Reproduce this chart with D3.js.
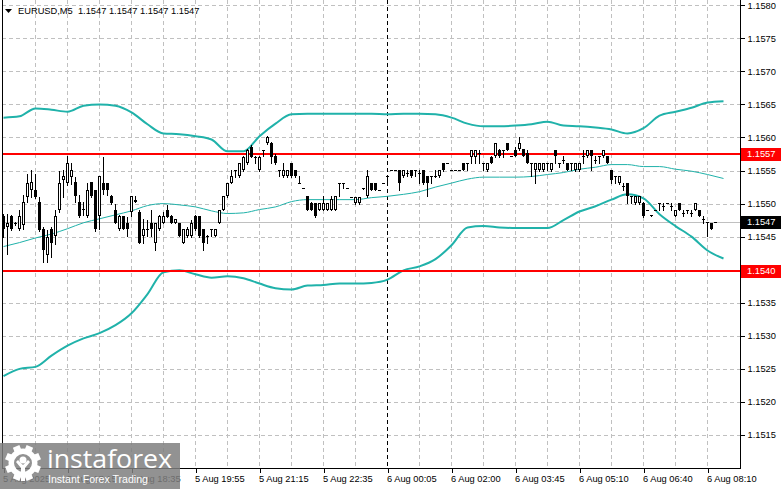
<!doctype html>
<html>
<head>
<meta charset="utf-8">
<title>EURUSD,M5</title>
<style>
body { margin: 0; background: #fff; }
svg { display: block; font-family: "Liberation Sans", Arial, sans-serif; }
.axis text { font-size: 9.3px; fill: #000; }
.axis line, .axis path { stroke: #000; }
</style>
</head>
<body>
<svg width="781" height="489"></svg>
<script src="https://cdn.jsdelivr.net/npm/d3@7"></script>
<script>
// M5 bars: [open, high, low, close]
var candles = [
  [1.15481,1.15485,1.15450,1.15461],[1.15465,1.15485,1.15424,1.15470],[1.15481,1.15482,1.15460,1.15461],[1.15470,1.15472,1.15468,1.15471],
  [1.15461,1.15490,1.15460,1.15481],[1.15467,1.15513,1.15461,1.15503],[1.15510,1.15545,1.15503,1.15531],[1.15521,1.15551,1.15510,1.15533],
  [1.15521,1.15545,1.15508,1.15510],[1.15503,1.15510,1.15458,1.15460],[1.15461,1.15465,1.15412,1.15430],[1.15422,1.15460,1.15412,1.15450],
  [1.15461,1.15465,1.15419,1.15440],[1.15451,1.15490,1.15439,1.15481],[1.15491,1.15550,1.15487,1.15531],[1.15535,1.15551,1.15510,1.15541],
  [1.15531,1.15572,1.15528,1.15561],[1.15540,1.15561,1.15530,1.15551],[1.15533,1.15540,1.15503,1.15511],[1.15503,1.15513,1.15480,1.15481],
  [1.15492,1.15503,1.15482,1.15492],[1.15481,1.15531,1.15480,1.15521],[1.15533,1.15533,1.15510,1.15511],[1.15521,1.15521,1.15458,1.15461],
  [1.15481,1.15541,1.15461,1.15541],[1.15531,1.15571,1.15515,1.15521],[1.15531,1.15531,1.15513,1.15521],[1.15511,1.15513,1.15500,1.15501],
  [1.15491,1.15500,1.15470,1.15471],[1.15461,1.15482,1.15460,1.15481],[1.15481,1.15481,1.15461,1.15461],[1.15471,1.15480,1.15451,1.15461],
  [1.15487,1.15511,1.15481,1.15511],[1.15503,1.15511,1.15503,1.15505],[1.15487,1.15490,1.15440,1.15441],[1.15451,1.15476,1.15441,1.15461],
  [1.15461,1.15475,1.15451,1.15460],[1.15471,1.15490,1.15451,1.15461],[1.15441,1.15471,1.15430,1.15471],[1.15461,1.15482,1.15460,1.15481],
  [1.15471,1.15487,1.15470,1.15481],[1.15491,1.15498,1.15480,1.15480],[1.15481,1.15482,1.15470,1.15471],[1.15471,1.15477,1.15470,1.15477],
  [1.15471,1.15471,1.15451,1.15451],[1.15441,1.15461,1.15441,1.15461],[1.15451,1.15465,1.15450,1.15461],[1.15451,1.15475,1.15450,1.15471],
  [1.15481,1.15482,1.15460,1.15461],[1.15481,1.15481,1.15450,1.15451],[1.15461,1.15461,1.15430,1.15441],[1.15451,1.15452,1.15441,1.15451],
  [1.15461,1.15461,1.15451,1.15461],[1.15451,1.15461,1.15451,1.15461],[1.15471,1.15491,1.15470,1.15491],[1.15491,1.15511,1.15490,1.15511],
  [1.15511,1.15531,1.15510,1.15531],[1.15531,1.15551,1.15531,1.15541],[1.15551,1.15551,1.15540,1.15551],[1.15541,1.15561,1.15540,1.15561],
  [1.15551,1.15572,1.15550,1.15571],[1.15561,1.15582,1.15560,1.15581],[1.15585,1.15588,1.15570,1.15571],[1.15571,1.15572,1.15561,1.15571],
  [1.15551,1.15572,1.15550,1.15571],[1.15581,1.15581,1.15572,1.15581],[1.15591,1.15602,1.15590,1.15601],[1.15591,1.15593,1.15561,1.15571],
  [1.15572,1.15575,1.15560,1.15561],[1.15551,1.15551,1.15541,1.15551],[1.15541,1.15561,1.15540,1.15551],[1.15541,1.15551,1.15540,1.15551],
  [1.15561,1.15561,1.15540,1.15541],[1.15551,1.15551,1.15540,1.15541],[1.15531,1.15541,1.15531,1.15531],[1.15523,1.15523,1.15523,1.15523],
  [1.15511,1.15511,1.15490,1.15490],[1.15501,1.15503,1.15490,1.15491],[1.15501,1.15501,1.15480,1.15481],[1.15491,1.15501,1.15490,1.15501],
  [1.15491,1.15511,1.15490,1.15501],[1.15491,1.15501,1.15490,1.15501],[1.15491,1.15511,1.15490,1.15507],[1.15491,1.15511,1.15490,1.15511],
  [1.15531,1.15531,1.15511,1.15531],[1.15531,1.15531,1.15523,1.15531],[1.15523,1.15523,1.15523,1.15523],[1.15510,1.15510,1.15510,1.15510],
  [1.15501,1.15510,1.15500,1.15510],[1.15501,1.15510,1.15500,1.15510],[1.15523,1.15523,1.15522,1.15523],[1.15511,1.15551,1.15510,1.15541],
  [1.15531,1.15531,1.15520,1.15521],[1.15531,1.15531,1.15520,1.15521],[1.15521,1.15521,1.15521,1.15521],[1.15531,1.15531,1.15531,1.15531],
  [1.15541,1.15541,1.15531,1.15541],[1.15551,1.15551,1.15551,1.15551],[1.15551,1.15551,1.15551,1.15551],[1.15551,1.15551,1.15521,1.15531],
  [1.15541,1.15551,1.15540,1.15551],[1.15545,1.15551,1.15541,1.15546],[1.15551,1.15551,1.15540,1.15541],[1.15551,1.15551,1.15541,1.15551],
  [1.15546,1.15551,1.15531,1.15545],[1.15551,1.15551,1.15530,1.15531],[1.15541,1.15541,1.15511,1.15531],[1.15541,1.15541,1.15531,1.15541],
  [1.15541,1.15551,1.15540,1.15541],[1.15541,1.15551,1.15540,1.15551],[1.15561,1.15562,1.15550,1.15551],[1.15561,1.15561,1.15561,1.15561],
  [1.15551,1.15551,1.15551,1.15551],[1.15551,1.15551,1.15551,1.15551],[1.15551,1.15551,1.15551,1.15551],[1.15561,1.15561,1.15551,1.15551],
  [1.15561,1.15561,1.15551,1.15561],[1.15571,1.15581,1.15561,1.15581],[1.15571,1.15581,1.15561,1.15581],[1.15576,1.15581,1.15561,1.15575],
  [1.15561,1.15561,1.15551,1.15561],[1.15551,1.15561,1.15550,1.15561],[1.15571,1.15572,1.15561,1.15561],[1.15572,1.15591,1.15571,1.15591],
  [1.15581,1.15582,1.15571,1.15572],[1.15581,1.15581,1.15571,1.15581],[1.15591,1.15591,1.15581,1.15581],[1.15572,1.15572,1.15572,1.15572],
  [1.15581,1.15585,1.15572,1.15572],[1.15582,1.15601,1.15581,1.15591],[1.15582,1.15582,1.15572,1.15572],[1.15576,1.15581,1.15561,1.15561],
  [1.15561,1.15561,1.15541,1.15561],[1.15551,1.15561,1.15531,1.15561],[1.15551,1.15561,1.15550,1.15561],[1.15551,1.15561,1.15550,1.15561],
  [1.15561,1.15561,1.15551,1.15561],[1.15551,1.15561,1.15550,1.15561],[1.15581,1.15581,1.15561,1.15572],[1.15561,1.15561,1.15555,1.15561],
  [1.15566,1.15572,1.15561,1.15566],[1.15561,1.15561,1.15551,1.15551],[1.15561,1.15561,1.15551,1.15561],[1.15551,1.15561,1.15550,1.15561],
  [1.15551,1.15561,1.15550,1.15561],[1.15572,1.15581,1.15561,1.15571],[1.15572,1.15581,1.15571,1.15581],[1.15581,1.15581,1.15551,1.15572],
  [1.15566,1.15572,1.15561,1.15566],[1.15572,1.15572,1.15561,1.15572],[1.15572,1.15581,1.15571,1.15581],[1.15572,1.15572,1.15561,1.15561],
  [1.15551,1.15551,1.15531,1.15535],[1.15541,1.15541,1.15531,1.15541],[1.15531,1.15541,1.15530,1.15541],[1.15526,1.15531,1.15521,1.15526],
  [1.15531,1.15531,1.15501,1.15511],[1.15511,1.15511,1.15501,1.15511],[1.15501,1.15511,1.15500,1.15511],[1.15501,1.15511,1.15500,1.15511],
  [1.15501,1.15503,1.15480,1.15481],[1.15491,1.15491,1.15491,1.15491],[1.15482,1.15482,1.15481,1.15481],[1.15491,1.15491,1.15491,1.15491],
  [1.15501,1.15501,1.15491,1.15501],[1.15496,1.15501,1.15491,1.15496],[1.15501,1.15501,1.15501,1.15501],[1.15496,1.15501,1.15491,1.15495],
  [1.15481,1.15491,1.15481,1.15491],[1.15501,1.15501,1.15491,1.15491],[1.15486,1.15491,1.15481,1.15486],[1.15491,1.15491,1.15486,1.15491],
  [1.15486,1.15491,1.15481,1.15485],[1.15491,1.15501,1.15491,1.15501],[1.15491,1.15491,1.15481,1.15481],[1.15476,1.15481,1.15471,1.15476],
  [1.15472,1.15472,1.15451,1.15472],[1.15471,1.15471,1.15461,1.15461],[1.15472,1.15472,1.15472,1.15472]
];

// Bollinger bands, one value every 4 bars (last one at bar 180)
var bandBars = d3.range(0, 177, 4).concat([180]);
var upperBand = [1.15630,1.15632,1.15644,1.15642,1.15639,1.15648,1.15650,1.15648,1.15638,1.15620,
  1.15606,1.15605,1.15602,1.15597,1.15579,1.15579,1.15602,1.15621,1.15635,1.15636,
  1.15636,1.15636,1.15636,1.15636,1.15635,1.15636,1.15636,1.15635,1.15630,1.15621,
  1.15617,1.15617,1.15618,1.15620,1.15624,1.15618,1.15617,1.15615,1.15612,1.15606,
  1.15614,1.15633,1.15639,1.15645,1.15653,1.15655];
var middleBand = [1.15435,1.15441,1.15448,1.15454,1.15462,1.15471,1.15477,1.15483,1.15489,1.15497,
  1.15500,1.15498,1.15495,1.15489,1.15485,1.15486,1.15491,1.15495,1.15503,1.15506,
  1.15506,1.15506,1.15506,1.15509,1.15511,1.15514,1.15518,1.15525,1.15531,1.15537,
  1.15540,1.15540,1.15540,1.15541,1.15544,1.15547,1.15552,1.15555,1.15559,1.15559,
  1.15556,1.15556,1.15552,1.15549,1.15544,1.15538];
var lowerBand = [1.15239,1.15250,1.15253,1.15270,1.15285,1.15296,1.15304,1.15316,1.15334,1.15363,
  1.15396,1.15399,1.15393,1.15388,1.15390,1.15387,1.15379,1.15372,1.15370,1.15376,
  1.15377,1.15379,1.15379,1.15380,1.15385,1.15399,1.15405,1.15416,1.15437,1.15464,
  1.15466,1.15464,1.15463,1.15463,1.15463,1.15475,1.15488,1.15496,1.15506,1.15514,
  1.15508,1.15484,1.15466,1.15450,1.15429,1.15417];

var priceTicks = [1.1515, 1.1520, 1.1525, 1.1530, 1.1535, 1.1540, 1.1545, 1.1550, 1.1555, 1.1560, 1.1565, 1.1570, 1.1575, 1.1580];
var timeTickBars = [0, 16, 32, 48, 64, 80, 96, 112, 128, 144, 160, 176];
var timeLabels = ["5 Aug 2025", "5 Aug 17:15", "5 Aug 18:35", "5 Aug 19:55", "5 Aug 21:15", "5 Aug 22:35",
  "6 Aug 00:05", "6 Aug 02:00", "6 Aug 03:45", "6 Aug 05:10", "6 Aug 06:40", "6 Aug 08:10"];
var daySeparatorBar = 96;
var levelPrices = [1.15575, 1.15398];
var levelLabels = ["1.1557", "1.1540"];
var lastPrice = 1.15472;
var lastLabel = "1.1547";

var svg = d3.select("svg"),
    left = 2, right = 740, bottom = 468;

var x = d3.scaleLinear().domain([0, 178]).range([3.5, 715.5]);
var y = d3.scaleLinear().domain([1.15100, 1.15808]).range([bottom, 0]);

svg.append("rect").attr("width", 781).attr("height", 489).attr("fill", "#fff");

// grid
var grid = svg.append("g").attr("shape-rendering", "crispEdges");
grid.selectAll(".hg").data(priceTicks).enter().append("line")
    .attr("x1", left).attr("x2", right)
    .attr("y1", function(d) { return Math.round(y(d)) + 0.5; })
    .attr("y2", function(d) { return Math.round(y(d)) + 0.5; })
    .attr("stroke", "#c0c0c0").attr("stroke-dasharray", "4,3");
grid.selectAll(".vg").data(d3.range(8, 177, 8)).enter().append("line")
    .attr("x1", function(d) { return x(d); }).attr("x2", function(d) { return x(d); })
    .attr("y1", 0).attr("y2", bottom)
    .attr("stroke", function(d) { return d === daySeparatorBar ? "#000" : "#c0c0c0"; })
    .attr("stroke-dasharray", "4,3");

// current price line
svg.append("line")
    .attr("x1", left).attr("x2", right)
    .attr("y1", Math.round(y(lastPrice)) + 0.5).attr("y2", Math.round(y(lastPrice)) + 0.5)
    .attr("stroke", "#c0c0c0").attr("shape-rendering", "crispEdges");

// bands
function band(values) {
    return d3.line()
        .x(function(d, i) { return x(bandBars[i]); })
        .y(function(d) { return y(d); })
        .curve(d3.curveMonotoneX)(values);
}
var teal = "#20b2aa";
svg.append("path").attr("d", band(upperBand)).attr("fill", "none").attr("stroke", teal).attr("stroke-width", 2);
svg.append("path").attr("d", band(lowerBand)).attr("fill", "none").attr("stroke", teal).attr("stroke-width", 2);
svg.append("path").attr("d", band(middleBand)).attr("fill", "none").attr("stroke", teal).attr("stroke-width", 1);

// support / resistance levels
svg.selectAll(".level").data(levelPrices).enter().append("line")
    .attr("x1", left).attr("x2", right)
    .attr("y1", function(d) { return y(d); }).attr("y2", function(d) { return y(d); })
    .attr("stroke", "#ff0000").attr("stroke-width", 2);

// candles
var cg = svg.append("g").attr("shape-rendering", "crispEdges");
candles.forEach(function(d, i) {
    var o = d[0], h = d[1], l = d[2], c = d[3], cx = x(i);
    cg.append("line")
        .attr("x1", cx).attr("x2", cx)
        .attr("y1", Math.round(y(h))).attr("y2", Math.round(y(l)) + 1)
        .attr("stroke", "#000");
    var top = Math.round(y(Math.max(o, c))), bot = Math.round(y(Math.min(o, c)));
    if (bot - top <= 1) {
        cg.append("rect").attr("x", cx - 1.5).attr("y", top).attr("width", 3).attr("height", 1).attr("fill", "#000");
    } else {
        cg.append("rect")
            .attr("x", cx - 1).attr("y", top + 0.5)
            .attr("width", 2).attr("height", bot - top - 1)
            .attr("fill", c >= o ? "#fff" : "#000")
            .attr("stroke", "#000");
    }
});

// borders
svg.append("path")
    .attr("d", "M" + (left + 0.5) + ",0V" + (bottom + 0.5) + "H" + (right + 0.5) + "V0")
    .attr("fill", "none").attr("stroke", "#000").attr("shape-rendering", "crispEdges");

// axes
svg.append("g").attr("class", "axis")
    .attr("transform", "translate(" + (right + 0.5) + ",0)")
    .call(d3.axisRight(y).tickValues(priceTicks).tickSize(4).tickSizeOuter(0).tickFormat(d3.format(".4f")))
    .call(function(g) { g.select(".domain").remove(); })
    .attr("font-family", null).attr("font-size", null)
    .selectAll("line").attr("shape-rendering", "crispEdges");

svg.append("g").attr("class", "axis")
    .attr("transform", "translate(0," + (bottom + 0.5) + ")")
    .call(d3.axisBottom(x).tickValues(timeTickBars).tickSize(4)
        .tickFormat(function(d, i) { return timeLabels[i]; }))
    .call(function(g) { g.select(".domain").remove(); })
    .attr("font-family", null).attr("font-size", null)
    .call(function(g) {
        g.selectAll("text").attr("text-anchor", "start").attr("x", -1);
        g.selectAll("line").attr("shape-rendering", "crispEdges");
    });

// price boxes
function priceBox(p, label, fill) {
    var yy = y(p);
    svg.append("rect").attr("x", right + 1).attr("y", Math.round(yy) - 6).attr("width", 40).attr("height", 13).attr("fill", fill);
    svg.append("text").attr("x", right + 7).attr("y", yy).attr("dy", "0.34em")
        .attr("font-size", "9.3px").attr("fill", "#fff").text(label);
}
levelPrices.forEach(function(p, i) { priceBox(p, levelLabels[i], "#ff0000"); });
priceBox(lastPrice, lastLabel, "#000");

// title
svg.append("path").attr("d", "M5,9H12L8.5,13Z").attr("fill", "#000");
svg.append("text").attr("x", 18).attr("y", 14).attr("font-size", "9.3px").style("white-space", "pre")
    .text("EURUSD,M5  1.1547 1.1547 1.1547 1.1547");

// watermark
var wm = svg.append("g");
wm.append("rect").attr("x", 0).attr("y", 443).attr("width", 180).attr("height", 46)
    .attr("fill", "#7f7f7f").attr("opacity", 0.85);
var gear = wm.append("g").attr("transform", "translate(23,463)").attr("fill", "#fff");
d3.range(8).forEach(function(k) {
    gear.append("rect").attr("x", -3.5).attr("y", -18).attr("width", 7).attr("height", 7)
        .attr("transform", "rotate(" + (k * 45 + 22.5) + ")");
});
gear.append("path").attr("d", d3.arc().innerRadius(9).outerRadius(14.5).startAngle(0).endAngle(2 * Math.PI)());
gear.append("circle").attr("cy", -3).attr("r", 3.5);
gear.append("path").attr("d", "M-7,-1L-2,5V18H2V5L7,-1L5,-3L0,2L-5,-3Z");
wm.append("text").attr("x", 47).attr("y", 468).attr("font-family", "'Open Sans', sans-serif")
    .attr("font-size", "25px").attr("fill", "#fff")
    .attr("textLength", 125).attr("lengthAdjust", "spacingAndGlyphs").text("instaforex");
wm.append("text").attr("x", 48).attr("y", 483).attr("font-size", "11.5px").attr("fill", "#fff")
    .attr("textLength", 100).attr("lengthAdjust", "spacingAndGlyphs").text("Instant Forex Trading");
</script>
</body>
</html>
